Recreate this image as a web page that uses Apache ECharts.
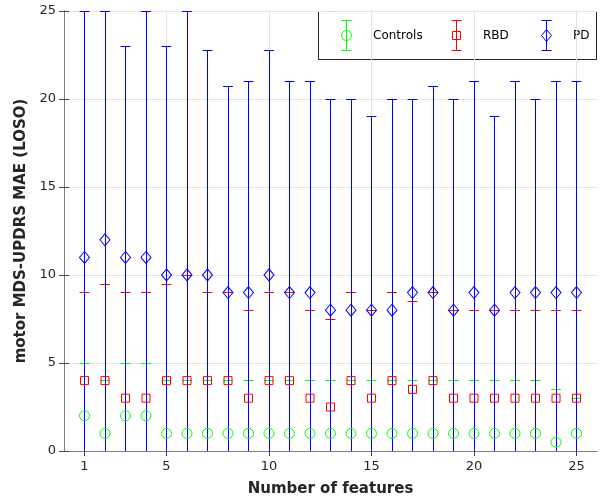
<!DOCTYPE html>
<html>
<head>
<meta charset="utf-8">
<script src="https://cdn.jsdelivr.net/npm/echarts@6/dist/echarts.min.js"></script>
<style>html,body{margin:0;padding:0;background:#fff}#c{width:603px;height:502px}</style>
</head>
<body>
<div id="c"></div>
<script>
// ---- data ----
const features = [1,2,3,4,5,6,7,8,9,10,11,12,13,14,15,16,17,18,19,20,21,22,23,24,25];
const xTickLabels = [1,5,10,15,20,25];
const yTickLabels = [0,5,10,15,20,25];
const controlsMAE = [2,1,2,2,1,1,1,1,1,1,1,1,1,1,1,1,1,1,1,1,1,1,1,0.5,1];
const controlsErr = [3,3,3,3,3,3,3,3,3,3,3,3,3,3,3,3,3,3,3,3,3,3,3,3,2];
const rbdMAE = [4,4,3,3,4,4,4,4,3,4,4,3,2.5,4,3,4,3.5,4,3,3,3,3,3,3,3];
const rbdErr = [5,5.5,6,6,5.5,6,5,5,5,5,5,5,5,5,5,5,5,5,5,5,5,5,5,5,5];
const pdMAE = [11,12,11,11,10,10,10,9,9,10,9,9,8,8,8,8,9,9,8,9,8,9,9,9,9];
const pdErr = [14,13,12,14,13,15,12.75,11.75,12,12.75,12,12,12,12,11,12,11,11.75,12,12,11,12,11,12,12];
const seriesNames = ['Controls','RBD','PD'];

const Y_MIN = 0, Y_MAX = 25, X_MIN = 0, X_MAX = 26;
const CAP_HALF = 0.24; // cap half-width in x units
const GREEN = '#00ff00', RED = '#ff0000', BLUE = '#0000ff';
const FONT = 'DejaVu Sans';

function errorSeries(name, means, errs, color, symbol, size) {
  const bars = [], caps = [], pts = [];
  features.forEach((f, i) => {
    const lo = means[i] - errs[i], hi = means[i] + errs[i];
    bars.push({coords: [[f, Math.max(Y_MIN, lo)], [f, Math.min(Y_MAX, hi)]]});
    if (hi <= Y_MAX) caps.push({coords: [[f - CAP_HALF, hi], [f + CAP_HALF, hi]]});
    if (lo >= Y_MIN) caps.push({coords: [[f - CAP_HALF, lo], [f + CAP_HALF, lo]]});
    pts.push([f, means[i]]);
  });
  const ls = {color: color, width: 1, opacity: 1, curveness: 0};
  return [{
    type: 'lines', name: name, coordinateSystem: 'cartesian2d', silent: true,
    symbol: ['none', 'none'], lineStyle: ls, data: bars
  }, {
    type: 'lines', name: name, coordinateSystem: 'cartesian2d', silent: true,
    symbol: ['none', 'none'], lineStyle: ls, data: caps
  }, {
    type: 'scatter', name: name, symbol: symbol, symbolSize: size, silent: true,
    itemStyle: {color: 'rgba(0,0,0,0)', borderColor: color, borderWidth: 1, opacity: 1},
    data: pts
  }];
}

function markerShape(kind, cx, cy, color) {
  const st = {fill: 'none', stroke: color, lineWidth: 1};
  if (kind === 'circle') return {type: 'circle', shape: {cx: cx, cy: cy, r: 5}, style: st};
  if (kind === 'rect') return {type: 'rect', shape: {x: cx - 4, y: cy - 4, width: 8, height: 8}, style: st};
  return {type: 'polygon', shape: {points: [[cx, cy - 6], [cx + 5, cy], [cx, cy + 6], [cx - 5, cy]]}, style: st};
}

function legendItem(x, color, kind, label) {
  const px = x + 0.5;
  const ls = () => ({stroke: color, lineWidth: 1, fill: 'none'});
  return [
    {type: 'line', shape: {x1: px, y1: 20.5, x2: px, y2: 50.5}, style: ls()},
    {type: 'line', shape: {x1: px - 5, y1: 20.5, x2: px + 5, y2: 20.5}, style: ls()},
    {type: 'line', shape: {x1: px - 5, y1: 50.5, x2: px + 5, y2: 50.5}, style: ls()},
    markerShape(kind, px, 35.5, color),
    {type: 'text', x: x + 27, y: 35.5, style: {text: label, fill: '#000', font: '12px "' + FONT + '"', textVerticalAlign: 'middle', textAlign: 'left'}}
  ];
}

const axisLineStyle = {show: true, lineStyle: {color: '#808080', width: 1}};
const tickStyle = {show: true, inside: true, length: 5, lineStyle: {color: '#404040'}};

const chart = echarts.init(document.getElementById('c'), null, {renderer: 'canvas'});
chart.setOption({
  animation: false,
  backgroundColor: '#fff',
  grid: {left: 64, right: 6, top: 11, bottom: 51, containLabel: false},
  xAxis: [{
    type: 'value', min: X_MIN, max: X_MAX, interval: 5, position: 'bottom',
    name: 'Number of features', nameLocation: 'middle', nameGap: 31,
    nameTextStyle: {fontFamily: FONT, fontWeight: 'bold', fontSize: 15, color: '#262626'},
    axisLine: axisLineStyle,
    axisTick: Object.assign({customValues: xTickLabels}, tickStyle),
    axisLabel: {customValues: xTickLabels, fontFamily: FONT, fontSize: 13, color: '#262626', margin: 9},
    splitLine: {show: true, lineStyle: {color: '#e3e3e3', width: 1}}
  }, {
    type: 'value', min: X_MIN, max: X_MAX, interval: 5, position: 'top',
    axisLine: axisLineStyle,
    axisTick: Object.assign({customValues: xTickLabels}, tickStyle),
    axisLabel: {show: false},
    splitLine: {show: false}
  }],
  yAxis: [{
    type: 'value', min: Y_MIN, max: Y_MAX, interval: 5, position: 'left',
    name: 'motor MDS-UPDRS MAE (LOSO)', nameLocation: 'middle', nameGap: 33,
    nameTextStyle: {fontFamily: FONT, fontWeight: 'bold', fontSize: 15, color: '#262626'},
    axisLine: axisLineStyle,
    axisTick: tickStyle,
    axisLabel: {fontFamily: FONT, fontSize: 13, color: '#262626', margin: 8},
    splitLine: {show: true, lineStyle: {color: '#e3e3e3', width: 1}}
  }, {
    type: 'value', min: Y_MIN, max: Y_MAX, interval: 5, position: 'right',
    axisLine: axisLineStyle,
    axisTick: tickStyle,
    axisLabel: {show: false},
    splitLine: {show: false}
  }],
  series: [].concat(
    errorSeries(seriesNames[0], controlsMAE, controlsErr, GREEN, 'circle', 10),
    errorSeries(seriesNames[1], rbdMAE, rbdErr, RED, 'rect', 8),
    errorSeries(seriesNames[2], pdMAE, pdErr, BLUE, 'diamond', [10, 12])
  ),
  graphic: [{
    type: 'group', z: 100, silent: true,
    children: [
      {type: 'rect', shape: {x: 318.5, y: 11.5, width: 278, height: 48}, style: {fill: '#fff', stroke: '#262626', lineWidth: 1}}
    ].concat(legendItem(346, GREEN, 'circle', seriesNames[0]))
     .concat(legendItem(456, RED, 'rect', seriesNames[1]))
     .concat(legendItem(546, BLUE, 'diamond', seriesNames[2]))
  }]
});
</script>
</body>
</html>
